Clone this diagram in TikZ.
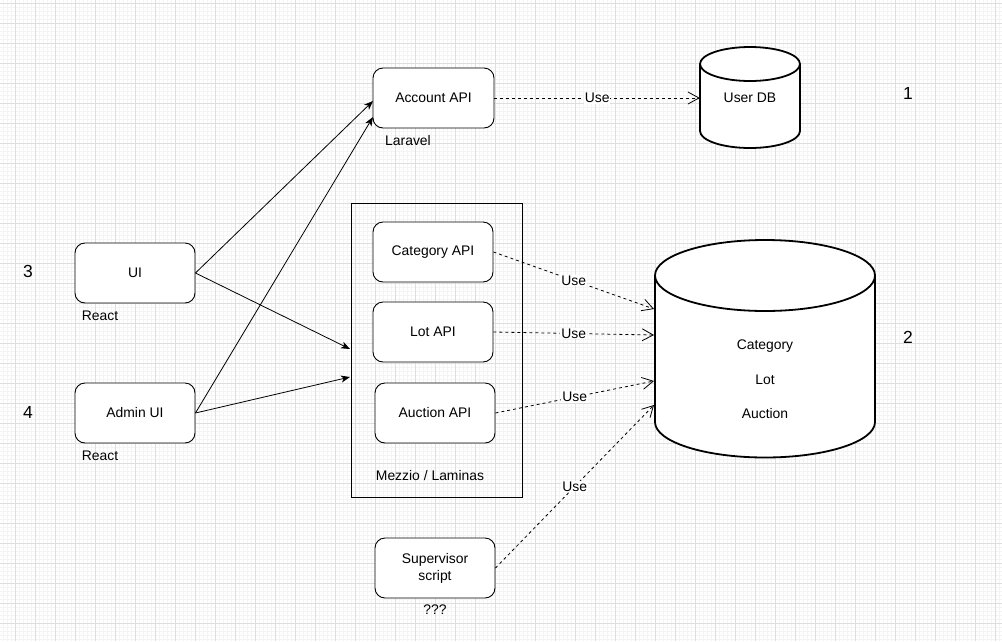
\documentclass[tikz,border=0pt]{standalone}
\usepackage{fontspec}
\setmainfont{Liberation Sans}
\usetikzlibrary{arrows.meta}
\definecolor{gridmajor}{RGB}{222,222,222}
\definecolor{gridminor}{RGB}{244,244,244}
\begin{document}
\begin{tikzpicture}[x=1pt,y=1pt,
  font=\fontsize{13.9}{17}\selectfont,
  box/.style={draw, rounded corners=10pt, minimum width=120pt, minimum height=60pt,
    fill=white, line width=0.9pt, align=center, inner sep=0pt},
  note/.style={inner sep=0pt},
  num/.style={font=\fontsize{17.5}{20}\selectfont, inner sep=0pt},
  call/.style={-{Stealth[length=9pt,width=7pt,inset=2.5pt]}, line width=0.8pt},
  uses/.style={dash pattern=on 3pt off 3pt, line width=0.8pt,
    -{Straight Barb[length=11pt,width=12pt,line width=0.8pt]}},
  uselbl/.style={fill=white, inner sep=1pt},
  dbline/.style={line width=1.8pt},
  anchorbox/.style={inner sep=0pt, draw=none}
]
% page and grid
\useasboundingbox (0,0) rectangle (1002,-641);
\fill[white] (0,0) rectangle (1002,-641);
\foreach \x in {3,7,...,1001} \draw[gridminor, line width=0.6pt] (\x,0) -- (\x,-641);
\foreach \y in {3,7,...,639} \draw[gridminor, line width=0.6pt] (0,-\y) -- (1002,-\y);
\foreach \x in {15,35,...,995} \draw[gridmajor, line width=0.9pt] (\x,0) -- (\x,-641);
\foreach \y in {3,23,...,623} \draw[gridmajor, line width=0.9pt] (0,-\y) -- (1002,-\y);

% User DB cylinder
\draw[dbline, fill=white] (700,-64) -- (700,-131)
  arc[start angle=180, end angle=360, x radius=50, y radius=17] -- (800,-64)
  arc[start angle=0, end angle=180, x radius=50, y radius=17] -- cycle;
\draw[dbline] (700,-64) arc[start angle=180, end angle=360, x radius=50, y radius=17];
\node[anchorbox, minimum width=100pt, minimum height=100pt] (userdb) at (750,-98) {User DB};

% shared data store cylinder
\draw[dbline, fill=white] (655,-275.5) -- (655,-422)
  arc[start angle=180, end angle=360, x radius=110, y radius=35.5] -- (875,-275.5)
  arc[start angle=0, end angle=180, x radius=110, y radius=35.5] -- cycle;
\draw[dbline] (655,-275.5) arc[start angle=180, end angle=360, x radius=110, y radius=35.5];
\node[anchorbox, minimum width=220pt, minimum height=218pt] (store) at (765,-349) {};
\node[note] (storecat) at (765,-346) {Category};
\node[note] (storelot) at (765,-380) {Lot};
\node[note] (storeauc) at (765,-414) {Auction};

% Mezzio / Laminas container
\node[draw, line width=0.9pt, minimum width=171pt, minimum height=294pt, inner sep=0pt]
  (mezzio) at (436.5,-350) {};
\node[note] (mezziolbl) at (430,-476) {Mezzio / Laminas};

% services
\node[box, minimum width=121pt] (acct) at (433.5,-98) {Account API};
\node[note] (laravel) at (408,-141) {Laravel};
\node[box] (cat) at (433,-252) {Category API};
\node[box] (lot) at (433,-332) {Lot API};
\node[box] (auc) at (435,-413) {Auction API};
\node[box] (sup) at (435,-568) {Supervisor\\script};
\node[note] (suplbl) at (435,-610) {???};

% clients
\node[box] (ui) at (135,-273) {UI};
\node[note] (uireact) at (100,-316) {React};
\node[box] (admin) at (135,-413) {Admin UI};
\node[note] (adminreact) at (100,-456) {React};

% numbers
\node[num] (n1) at (908,-93) {1};
\node[num] (n2) at (908,-337) {2};
\node[num] (n3) at (28,-271) {3};
\node[num] (n4) at (28,-412) {4};

% connector end points
\coordinate (acctA) at (373,-101);
\coordinate (acctB) at (373,-117);
\coordinate (mzA) at (350,-349);
\coordinate (mzB) at (350,-377);
\coordinate (storeA) at (654,-309);
\coordinate (storeB) at (654,-335);
\coordinate (storeC) at (654,-381);
\coordinate (storeD) at (654,-405);

% client calls
\draw[call] (ui.east) -- (acctA);
\draw[call] (ui.east) -- (mzA);
\draw[call] (admin.east) -- (acctB);
\draw[call] (admin.east) -- (mzB);

% data access
\draw[uses] (acct.east) -- (userdb.west) node[midway, uselbl] {Use};
\draw[uses] (cat.east) -- (storeA) node[midway, uselbl] {Use};
\draw[uses] (lot.east) -- (storeB) node[midway, uselbl] {Use};
\draw[uses] (auc.east) -- (storeC) node[midway, uselbl] {Use};
\draw[uses] (sup.east) -- (storeD) node[midway, uselbl] {Use};
\end{tikzpicture}
\end{document}
